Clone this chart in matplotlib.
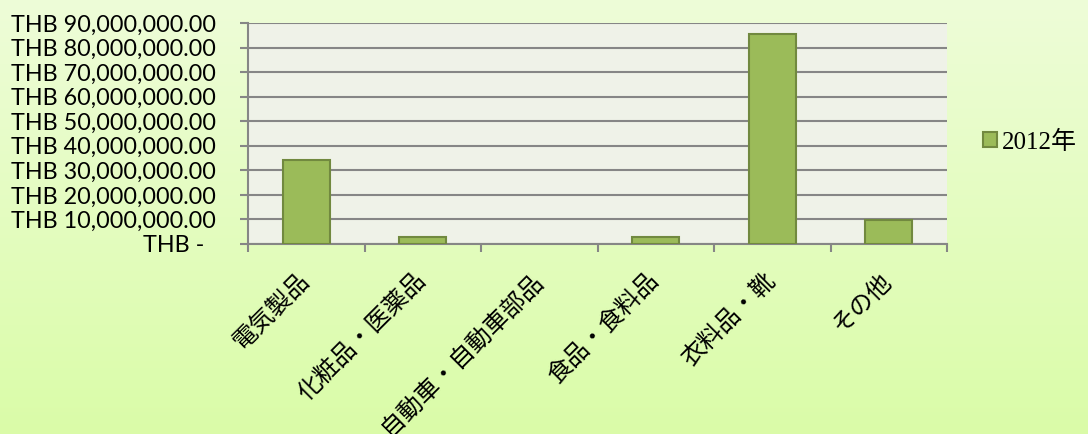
import numpy as np
import matplotlib
matplotlib.use("Agg")
import matplotlib.pyplot as plt
from matplotlib.ticker import FixedLocator, MultipleLocator, FuncFormatter
from matplotlib.transforms import ScaledTranslation

categories = ["電気製品", "化粧品・医薬品", "自動車・自動車部品", "食品・食料品", "衣料品・靴", "その他"]
values_2012 = [34_300_000, 2_700_000, 0, 2_800_000, 85_600_000, 9_800_000]
series_name = "2012年"

W, H = 1088, 434
fig = plt.figure(figsize=(W / 100, H / 100), dpi=100)

# Soft vertical gradient behind everything
bg = fig.add_axes([0, 0, 1, 1], zorder=-10)
top = np.array([0.933, 0.992, 0.847])
bot = np.array([0.855, 0.988, 0.659])
t = np.linspace(0, 1, 256)[:, None]
grad = top[None, :] * (1 - t) + bot[None, :] * t
bg.imshow(grad[:, None, :].repeat(4, axis=1), aspect="auto", extent=[0, 1, 0, 1])
bg.set_axis_off()

ax = fig.add_axes([248 / W, 1 - 244 / H, (947 - 248) / W, (244 - 23) / H])
ax.set_facecolor("#eff2e8")

x = np.arange(len(categories))
edges = ["#71893f" if v > 0 else "none" for v in values_2012]
ax.bar(x, values_2012, width=0.4, color="#9bbb59", edgecolor=edges,
       linewidth=1.5, zorder=3, label=series_name)

ax.set_xlim(-0.5, len(categories) - 0.5)
ax.set_ylim(0, 90_000_000)
ax.yaxis.set_major_locator(MultipleLocator(10_000_000))


def thb(v, pos):
    if v == 0:
        return "THB -  "
    return f"THB {v:,.2f}"


ax.yaxis.set_major_formatter(FuncFormatter(thb))
ax.grid(axis="y", color="#868686", linewidth=1.5, zorder=1)
for s in ("top", "right"):
    ax.spines[s].set_visible(False)
for s in ("left", "bottom"):
    ax.spines[s].set_color("#868686")
    ax.spines[s].set_linewidth(1.5)

ax.tick_params(axis="y", length=6, width=1.5, color="#868686", pad=17,
               labelsize=16.8)
for lab in ax.get_yticklabels():
    lab.set_family(["Lato", "DejaVu Sans"])

# Category labels at centres, tick marks at category boundaries
ax.set_xticks(x)
ax.set_xticklabels(categories, rotation=45, ha="right", va="top",
                   rotation_mode="anchor", fontsize=17.5,
                   family=["Noto Sans CJK JP", "DejaVu Sans"])
ax.tick_params(axis="x", which="major", length=0, pad=17)
shift = ScaledTranslation(-10 / 100, 0, fig.dpi_scale_trans)
for lab in ax.get_xticklabels():
    lab.set_transform(lab.get_transform() + shift)
ax.xaxis.set_minor_locator(FixedLocator(np.arange(-0.5, len(categories), 1.0)))
ax.tick_params(axis="x", which="minor", length=6, width=1.5, color="#868686")

leg = fig.legend(loc="center left", bbox_to_anchor=(983 / W, 1 - 142 / H),
                 frameon=False, handlelength=0.56, handleheight=0.56,
                 handletextpad=0.2, borderaxespad=0, borderpad=0,
                 prop={"family": ["Liberation Serif", "Noto Sans CJK JP"], "size": 18})

fig.savefig("out.png", dpi=100)
